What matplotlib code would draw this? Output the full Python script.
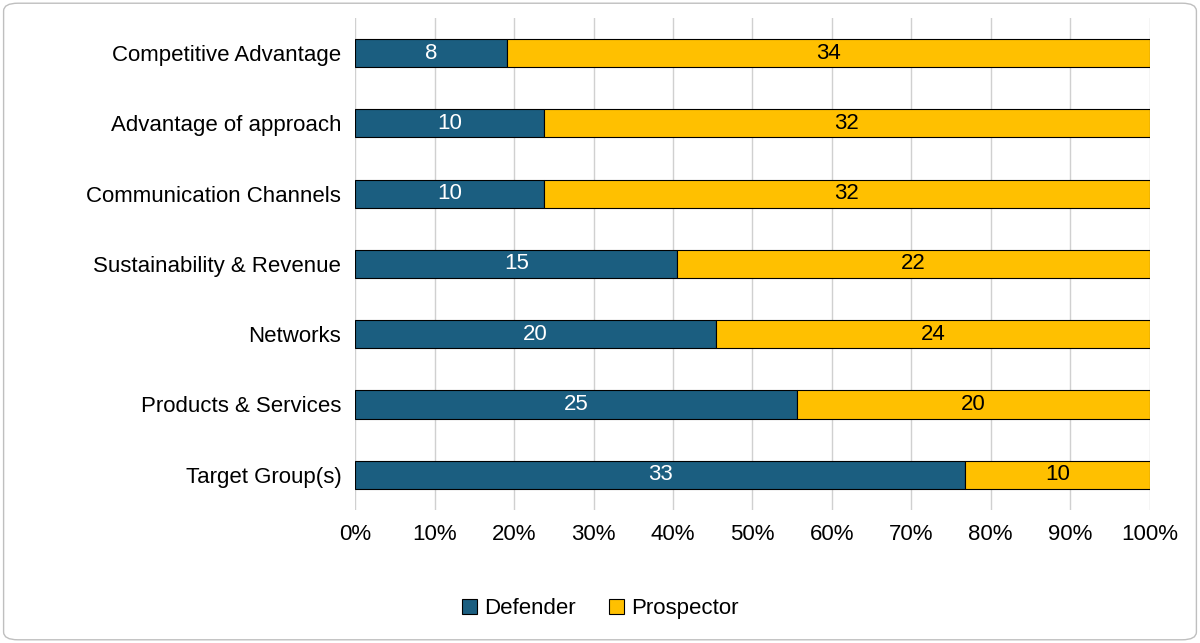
import numpy as np
import matplotlib.pyplot as plt
from matplotlib.patches import FancyBboxPatch
from matplotlib.ticker import PercentFormatter

plt.rcParams['font.family'] = ['Liberation Sans', 'DejaVu Sans']

categories = ['Competitive Advantage', 'Advantage of approach', 'Communication Channels',
              'Sustainability & Revenue', 'Networks', 'Products & Services', 'Target Group(s)']
defender = np.array([8, 10, 10, 15, 20, 25, 33])
prospector = np.array([34, 32, 32, 22, 24, 20, 10])

total = defender + prospector
d_pct = defender / total * 100
p_pct = prospector / total * 100

fig = plt.figure(figsize=(12, 6.43), dpi=100)
border = FancyBboxPatch((0.003, 0.005), 0.994, 0.99, boxstyle='round,pad=0,rounding_size=0.012',
                        transform=fig.transFigure, fc='white', ec='#bfbfbf', lw=1, zorder=-10)
fig.patches.append(border)
ax = fig.add_axes([0.296, 0.207, 0.662, 0.765])
ax.set_facecolor('none')

y = np.arange(len(categories))[::-1]
h = 0.4
b1 = ax.barh(y, d_pct, height=h, color='#1b5e80', edgecolor='black', lw=0.8, label='Defender', zorder=3)
b2 = ax.barh(y, p_pct, left=d_pct, height=h, color='#ffc000', edgecolor='black', lw=0.8, label='Prospector', zorder=3)
ax.bar_label(b1, labels=[str(v) for v in defender], label_type='center', color='white', fontsize=16)
ax.bar_label(b2, labels=[str(v) for v in prospector], label_type='center', color='black', fontsize=16)

ax.set_xlim(0, 100)
ax.set_ylim(-0.5, len(categories) - 0.5)
ax.set_xticks(np.arange(0, 101, 10))
ax.xaxis.set_major_formatter(PercentFormatter(decimals=0))
ax.set_yticks(y)
ax.set_yticklabels(categories)
ax.tick_params(axis='both', labelsize=16, length=0, pad=10)
ax.grid(axis='x', color='#d0d0d0', lw=1, zorder=0)
for s in ax.spines.values():
    s.set_visible(False)

fig.legend(handles=[b1, b2], loc='center', bbox_to_anchor=(0.5, 0.053), ncol=2,
           frameon=False, fontsize=16, handlelength=0.7, handleheight=0.7, columnspacing=1.5, handletextpad=0.3)
fig.savefig('out.png', dpi=100)
